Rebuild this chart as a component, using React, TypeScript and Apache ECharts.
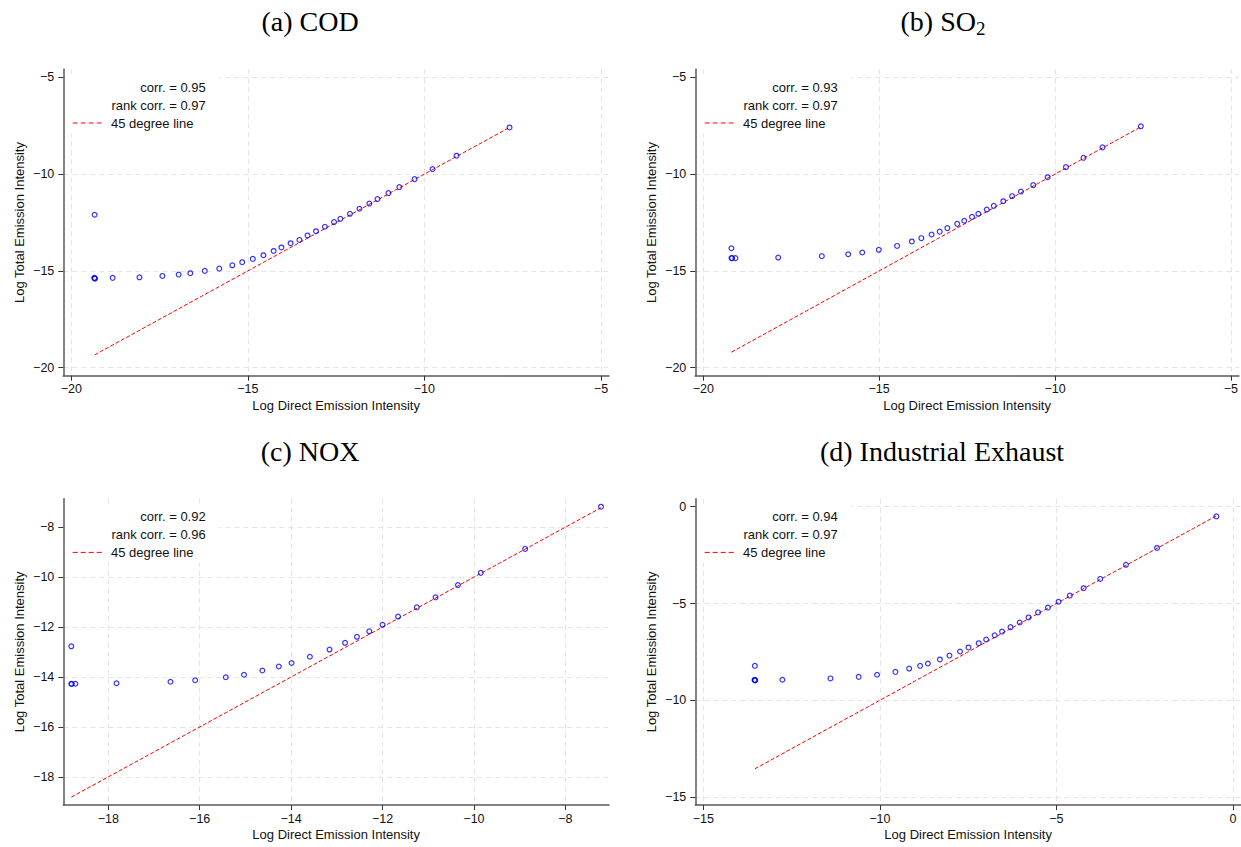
import React, { useEffect, useRef } from "react";
import * as echarts from "echarts";

// ---------- Data ----------
// (a) COD
const codX = [-19.34, -19.34, -19.33, -19.35, -18.83, -18.07, -17.42, -16.96, -16.63, -16.22, -15.81, -15.44, -15.16, -14.86, -14.56, -14.27, -14.05, -13.79, -13.54, -13.31, -13.07, -12.82, -12.56, -12.38, -12.11, -11.84, -11.56, -11.33, -11.02, -10.71, -10.28, -9.77, -9.09, -7.59];
const codY = [-12.10, -15.38, -15.40, -15.36, -15.36, -15.33, -15.26, -15.19, -15.12, -15.00, -14.88, -14.71, -14.55, -14.38, -14.19, -13.97, -13.79, -13.57, -13.40, -13.17, -12.95, -12.72, -12.48, -12.31, -12.05, -11.79, -11.52, -11.29, -10.98, -10.67, -10.26, -9.74, -9.05, -7.59];
const codLine = [-19.34, -7.59];

// (b) SO2
const so2X = [-19.20, -19.20, -19.18, -19.085, -17.87, -16.63, -15.88, -15.48, -15.01, -14.49, -14.07, -13.80, -13.51, -13.28, -13.06, -12.78, -12.58, -12.36, -12.18, -11.94, -11.74, -11.47, -11.22, -10.97, -10.62, -10.21, -9.69, -9.19, -8.65, -7.56];
const so2Y = [-13.83, -14.34, -14.34, -14.34, -14.31, -14.24, -14.14, -14.05, -13.91, -13.71, -13.48, -13.31, -13.12, -12.97, -12.79, -12.57, -12.41, -12.21, -12.05, -11.83, -11.64, -11.40, -11.14, -10.90, -10.57, -10.16, -9.64, -9.16, -8.62, -7.53];
const so2Line = [-19.2, -7.56];

// (c) NOX
const noxX = [-18.81, -18.81, -18.80, -18.72, -17.82, -16.64, -16.10, -15.43, -15.03, -14.63, -14.27, -13.99, -13.59, -13.16, -12.82, -12.56, -12.29, -12.00, -11.66, -11.25, -10.84, -10.35, -9.85, -8.88, -7.22];
const noxY = [-12.77, -14.27, -14.28, -14.27, -14.25, -14.19, -14.13, -14.01, -13.91, -13.74, -13.58, -13.44, -13.19, -12.90, -12.63, -12.39, -12.17, -11.91, -11.58, -11.21, -10.81, -10.32, -9.83, -8.87, -7.18];
const noxLine = [-18.81, -7.22];

// (d) Industrial Exhaust
const exhX = [-13.54, -13.54, -13.53, -13.55, -12.76, -11.40, -10.60, -10.08, -9.56, -9.17, -8.86, -8.64, -8.30, -8.03, -7.73, -7.49, -7.20, -6.99, -6.75, -6.54, -6.30, -6.04, -5.79, -5.52, -5.24, -4.94, -4.62, -4.23, -3.76, -3.03, -2.15, -0.47];
const exhY = [-8.22, -8.96, -8.97, -8.95, -8.94, -8.87, -8.79, -8.68, -8.53, -8.36, -8.22, -8.10, -7.89, -7.69, -7.48, -7.27, -7.05, -6.86, -6.64, -6.45, -6.22, -5.98, -5.72, -5.46, -5.21, -4.91, -4.59, -4.21, -3.73, -3.00, -2.13, -0.50];
const exhLine = [-13.54, -0.47];

// Correlations shown in each legend
const corrValues = ["0.95", "0.93", "0.92", "0.94"];
const rankCorrValues = ["0.97", "0.97", "0.96", "0.97"];

// Tick labels
const ticksAB = [-20, -15, -10, -5];
const ticksC = [-18, -16, -14, -12, -10, -8];
const ticksD = [-15, -10, -5, 0];

const xTitle = "Log Direct Emission Intensity";
const yTitle = "Log Total Emission Intensity";
const legendLineLabel = "45 degree line";

// ---------- Layout ----------
const SANS = '"Liberation Sans", Arial, Helvetica, sans-serif';
const SERIF = '"Liberation Serif", "Times New Roman", serif';
const PW = 545.7;
const PH = 306.4;
const TEXT = "#111";

const panels = [
  { x: codX, y: codY, line: codLine, left: 63.3, top: 69.3, xExt: [-20.227, -4.773], yExt: [-20.414, -4.586], xTicks: ticksAB, yTicks: ticksAB },
  { x: so2X, y: so2Y, line: so2Line, left: 695.3, top: 69.3, xExt: [-20.227, -4.773], yExt: [-20.414, -4.586], xTicks: ticksAB, yTicks: ticksAB },
  { x: noxX, y: noxY, line: noxLine, left: 63.3, top: 498.7, xExt: [-18.985, -7.045], yExt: [-19.13, -6.86], xTicks: ticksC, yTicks: ticksC },
  { x: exhX, y: exhY, line: exhLine, left: 695.3, top: 498.7, xExt: [-15.227, 0.227], yExt: [-15.414, 0.414], xTicks: ticksD, yTicks: ticksD },
];

const fmt = (v: number) => (v < 0 ? "\u2212" + String(-v) : String(v));

function buildOption() {
  const grid = panels.map((p) => ({ left: p.left, top: p.top, width: PW, height: PH, containLabel: false }));
  const axisCommon = (ticks: number[]) => ({
    type: "value" as const,
    axisLine: { show: true, onZero: false, lineStyle: { color: "#5a5a5a", width: 1.5 } },
    axisTick: { show: true, inside: false, length: 5, customValues: ticks, lineStyle: { color: "#333", width: 1 } },
    axisLabel: { customValues: ticks, formatter: fmt, fontSize: 12.5, color: TEXT, fontFamily: SANS },
    splitLine: { show: true, lineStyle: { color: "#e4e4e4", width: 1, type: [5, 4] } },
    nameLocation: "middle" as const,
    nameTextStyle: { fontSize: 13, color: TEXT, fontFamily: SANS },
  });
  const xAxis = panels.map((p, i) => {
    const c = axisCommon(p.xTicks);
    return {
      ...c,
      gridIndex: i,
      min: p.xExt[0],
      max: p.xExt[1],
      name: xTitle,
      nameGap: 23,
      axisLabel: { ...c.axisLabel, margin: 7 },
    };
  });
  const yAxis = panels.map((p, i) => {
    const c = axisCommon(p.yTicks);
    return {
      ...c,
      gridIndex: i,
      min: p.yExt[0],
      max: p.yExt[1],
      name: yTitle,
      nameGap: 37,
      axisLabel: { ...c.axisLabel, margin: 9 },
    };
  });
  const series: any[] = [];
  panels.forEach((p, i) => {
    series.push({
      type: "line",
      xAxisIndex: i,
      yAxisIndex: i,
      data: p.line.map((v) => [v, v]),
      symbol: "none",
      silent: true,
      lineStyle: { color: "#ff0000", width: 1, type: [4, 2] },
      z: 2,
    });
    series.push({
      type: "scatter",
      xAxisIndex: i,
      yAxisIndex: i,
      data: p.x.map((v, j) => [v, p.y[j]]),
      symbol: "circle",
      symbolSize: 4.8,
      silent: true,
      itemStyle: { color: "rgba(255,255,255,0)", borderColor: "#0000ff", borderWidth: 1.2 },
      z: 3,
    });
  });

  const graphic: any[] = [];
  // Panel titles
  const titleStyle = { fontSize: 28, fontFamily: SERIF, fill: "#000" };
  graphic.push({ type: "text", x: 310, y: 21.5, style: { ...titleStyle, text: "(a) COD", align: "center", verticalAlign: "middle" } });
  graphic.push({ type: "text", x: 976, y: 21.5, style: { ...titleStyle, text: "(b) SO", align: "right", verticalAlign: "middle" } });
  graphic.push({ type: "text", x: 976, y: 28, style: { ...titleStyle, fontSize: 19, text: "2", align: "left", verticalAlign: "middle" } });
  graphic.push({ type: "text", x: 310, y: 451, style: { ...titleStyle, text: "(c) NOX", align: "center", verticalAlign: "middle" } });
  graphic.push({ type: "text", x: 942, y: 451, style: { ...titleStyle, text: "(d) Industrial Exhaust", align: "center", verticalAlign: "middle" } });

  // Legends
  panels.forEach((p, i) => {
    const L = p.left;
    const T = p.top;
    const ts = { fontSize: 13, fontFamily: SANS, fill: TEXT };
    graphic.push({ type: "rect", z: 10, shape: { x: L + 2, y: T + 5, width: 154, height: 59 }, style: { fill: "#fff" } });
    graphic.push({ type: "text", z: 11, x: L + 142.4, y: T + 18, style: { ...ts, text: "corr. = " + corrValues[i], align: "right", verticalAlign: "middle" } });
    graphic.push({ type: "text", z: 11, x: L + 142.4, y: T + 36, style: { ...ts, text: "rank corr. = " + rankCorrValues[i], align: "right", verticalAlign: "middle" } });
    graphic.push({ type: "line", z: 11, shape: { x1: L + 9.4, y1: T + 53.7, x2: L + 41, y2: T + 53.7 }, style: { stroke: "#ff0000", lineWidth: 1, lineDash: [5, 3] } });
    graphic.push({ type: "text", z: 11, x: L + 47.7, y: T + 53.7, style: { ...ts, text: legendLineLabel, align: "left", verticalAlign: "middle" } });
  });

  return {
    animation: false,
    backgroundColor: "#ffffff",
    grid,
    xAxis,
    yAxis,
    series,
    graphic,
  };
}

export default function App() {
  const ref = useRef<HTMLDivElement>(null);
  useEffect(() => {
    if (!ref.current) return;
    const chart = echarts.init(ref.current, undefined, { renderer: "svg" });
    chart.setOption(buildOption() as any);
    return () => chart.dispose();
  }, []);
  return (
    <div
      ref={ref}
      style={{ position: "fixed", left: 0, top: 0, width: 1241, height: 847, background: "#fff" }}
    />
  );
}
